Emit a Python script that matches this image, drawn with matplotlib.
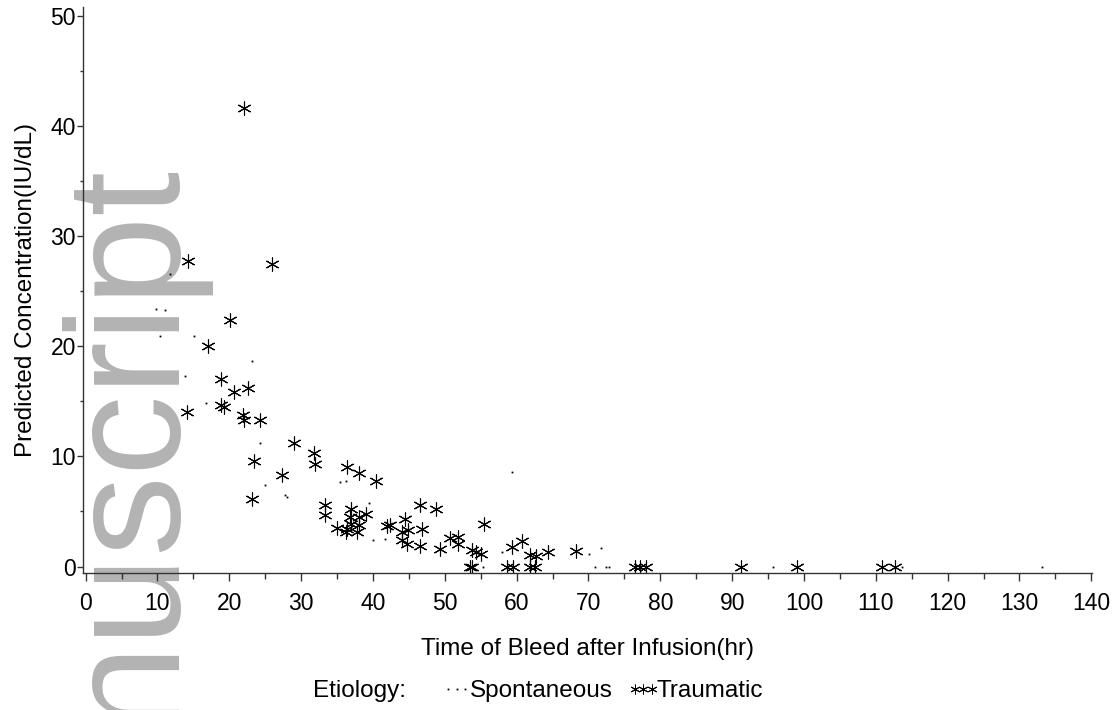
import matplotlib
matplotlib.use("Agg")
import matplotlib.pyplot as plt
from matplotlib.lines import Line2D

plt.rcParams['font.family'] = ['Liberation Sans', 'DejaVu Sans']

# Traumatic (asterisks)
trauma_x = [22.1, 14.3, 26.0, 20.1, 17.1, 18.8, 20.7, 22.6, 18.8, 19.3, 14.1, 21.9, 22.0, 24.3,
            29.0, 31.8, 31.9, 23.4, 27.3, 23.2, 36.4, 38.0, 40.4, 33.3, 33.3, 35.0, 36.2,
            37.0, 36.8, 38.1, 39.0, 36.9, 38.1, 37.8, 36.4, 41.9, 42.3, 44.5, 44.0, 44.9,
            44.0, 44.8, 46.5, 46.8, 46.6, 48.8, 49.3, 50.7, 51.8, 51.8, 53.8, 54.4, 55.0,
            53.5, 53.8, 55.4, 59.3, 60.8, 61.8, 62.7, 64.3, 68.2, 58.6, 59.5, 61.8, 62.6,
            76.5, 77.2, 78.0, 91.3, 99.0, 110.9, 112.7]
trauma_y = [41.6, 27.7, 27.5, 22.4, 20.0, 17.0, 15.8, 16.2, 14.7, 14.5, 14.0, 13.8, 13.3, 13.3,
            11.2, 10.3, 9.3, 9.6, 8.3, 6.1, 9.0, 8.5, 7.8, 5.6, 4.7, 3.5, 3.1,
            5.2, 4.5, 4.5, 4.8, 3.9, 3.8, 3.1, 3.4, 3.7, 3.8, 4.3, 3.1, 3.3,
            2.4, 2.0, 1.9, 3.4, 5.6, 5.2, 1.6, 2.6, 2.7, 2.0, 1.5, 1.3, 1.15,
            0.0, 0.0, 3.9, 1.75, 2.3, 1.05, 0.95, 1.3, 1.4, 0.0, 0.0, 0.0, 0.0,
            0.0, 0.0, 0.0, 0.0, 0.0, 0.0, 0.0]

# Spontaneous (tiny dots)
spont_x = [11.8, 9.8, 11.0, 10.4, 15.1, 23.1, 13.85, 16.8, 24.3, 25.0, 27.8, 28.0, 35.4, 36.2,
           39.4, 40.0, 41.7, 59.4, 55.3, 70.1, 71.8, 70.9, 72.5, 72.9, 95.7, 113.6, 133.2,
           58.0, 14.3]
spont_y = [26.6, 23.4, 23.3, 20.9, 20.9, 18.7, 17.3, 14.8, 11.2, 7.4, 6.45, 6.3, 7.7, 7.8,
           5.75, 2.4, 2.5, 8.6, 0.0, 1.1, 1.7, 0.0, 0.0, 0.0, 0.0, 0.0, 0.0,
           1.3, 27.7]

x_ticks = [0, 10, 20, 30, 40, 50, 60, 70, 80, 90, 100, 110, 120, 130, 140]
y_ticks = [0, 10, 20, 30, 40, 50]

W, H = 1119, 710
fig = plt.figure(figsize=(W / 100, H / 100), dpi=100)
fig.patch.set_facecolor('white')

# watermark behind everything
fig.text(169 / W, 1 - 160 / H, "nuscript", rotation=90, rotation_mode='anchor',
         ha='right', va='baseline', fontsize=116, color='#b3b3b3', zorder=-5)

ax = fig.add_axes([83.3 / W, 1 - 573 / H, (1092 - 83.3) / W, (573 - 7) / H])
ax.set_facecolor('none')

ax.plot(spont_x, spont_y, linestyle='none', marker='s', ms=1.3, mew=0,
        color='black', label='Spontaneous')
ax.plot(trauma_x, trauma_y, linestyle='none', marker=(6, 2, 0), ms=10, mew=0.8,
        color='black', label='Traumatic')

ax.set_xlim(-0.33, 140.1)
ax.set_ylim(-0.59, 50.8)
ax.set_xticks(x_ticks)
ax.set_yticks(y_ticks)
ax.set_xticks([x + 5 for x in x_ticks[:-1]], minor=True)
ax.set_yticks([y + 5 for y in y_ticks[:-1]], minor=True)

for s in ['top', 'right']:
    ax.spines[s].set_visible(False)
for s in ['left', 'bottom']:
    ax.spines[s].set_linewidth(1.0)
    ax.spines[s].set_color('#333333')

ax.tick_params(axis='x', which='major', length=6, width=1.0, color='#333333',
               labelsize=16.5, pad=8)
ax.tick_params(axis='x', which='minor', length=4, width=1.0, color='#333333')
ax.tick_params(axis='y', which='major', length=4.3, width=1.0, color='#333333',
               labelsize=16.5, pad=1)
ax.tick_params(axis='y', which='minor', length=2.2, width=1.0, color='#333333')

ax.set_xlabel("Time of Bleed after Infusion(hr)", fontsize=17.5, labelpad=16)
ax.set_ylabel("Predicted Concentration(IU/dL)", fontsize=17.5, labelpad=9.5)

fig.text(313 / W, 1 - 691 / H, "Etiology:", fontsize=17.5, ha='left', va='center')
handles = [Line2D([], [], linestyle='none', marker='s', ms=1.3, mew=0, color='black'),
           Line2D([], [], linestyle='none', marker=(6, 2, 0), ms=7, mew=0.7, color='black')]
fig.legend(handles, ['Spontaneous', 'Traumatic'], ncol=2, frameon=False, numpoints=3,
           handlelength=1.3, handletextpad=-0.1, columnspacing=0.6, fontsize=17.5,
           loc='center left', bbox_to_anchor=(441 / W, 1 - 691 / H),
           borderaxespad=0, borderpad=0)

fig.savefig("out.png", dpi=100)
